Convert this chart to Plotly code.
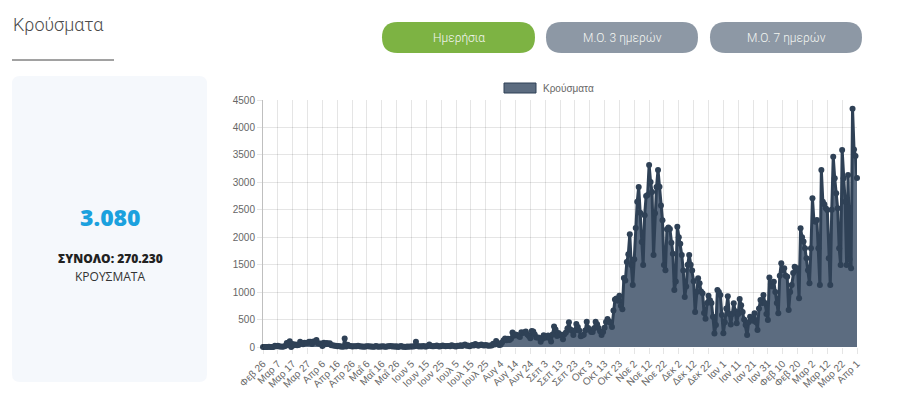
import pandas as pd
import plotly.graph_objects as go

# ---------------- data (daily cases) ----------------
cases_2020_feb = [1, 2, 1, 0]
cases_2020_mar = [3, 0, 0, 2, 22, 14, 21, 7, 11, 5, 10, 18, 73, 38, 103, 0, 56, 31, 46, 31,
                  35, 94, 71, 48, 78, 71, 74, 95, 95, 56, 102]
cases_2020_apr = [101, 129, 69, 60, 62, 20, 77, 52, 71, 56, 70, 33, 31, 25, 22, 15, 17, 11, 10, 6,
                  156, 10, 39, 22, 16, 11, 12, 14, 15, 24]
cases_2020_may = [15, 10, 9, 3, 10, 15, 13, 9, 11, 6, 4, 16, 10, 5, 10, 7, 12, 3, 6, 15,
                  12, 19, 7, 13, 4, 12, 1, 10, 20, 5, 6]
cases_2020_jun = [2, 8, 4, 10, 7, 11, 15, 97, 16, 9, 12, 10, 19, 7, 11, 20, 45, 18, 14, 12,
                  17, 26, 13, 10, 17, 28, 20, 12, 20, 18]
cases_2020_jul = [14, 30, 23, 13, 9, 24, 17, 32, 19, 34, 44, 22, 26, 13, 24, 36, 28, 55, 38, 21,
                  35, 44, 30, 28, 35, 28, 24, 27, 29, 57, 44]
cases_2020_aug = [110, 75, 37, 41, 80, 125, 153, 121, 151, 126, 150, 262, 203, 230, 217, 200, 181, 269, 256, 269,
                  284, 228, 201, 158, 293, 284, 228, 175, 171, 168, 97]
cases_2020_sep = [144, 212, 170, 186, 209, 160, 101, 227, 372, 320, 201, 253, 213, 223, 142, 234, 264, 339, 453, 318,
                  297, 217, 302, 418, 363, 300, 196, 210, 224, 301]
cases_2020_oct = [460, 346, 316, 273, 275, 342, 460, 414, 348, 287, 218, 274, 351, 457, 508, 468, 441, 363, 667, 865,
                  882, 841, 935, 753, 686, 1259, 1211, 1547, 1690, 2056, 1494]
cases_2020_nov = [1131, 1600, 2166, 2646, 2917, 2448, 1914, 1494, 2400, 2752, 2770, 3316, 3006, 2822, 1676, 2436, 2913, 3225, 2921, 2580,
                  2311, 1494, 1400, 2144, 2179, 2150, 1900, 1700, 1038, 1193]
cases_2020_dec = [2192, 2000, 1882, 1675, 1395, 911, 1100, 1500, 1676, 1500, 1395, 1200, 638, 1000, 1251, 1160, 1013, 980, 620, 515,
                  800, 935, 850, 800, 550, 248, 400, 1038, 1000, 947, 583]
cases_2021_jan = [249, 450, 700, 925, 600, 410, 600, 797, 650, 434, 600, 875, 760, 638, 500, 400, 219, 450, 552, 520,
                  480, 613, 450, 310, 700, 856, 800, 947, 800, 600, 492]
cases_2021_feb = [1264, 1150, 1100, 1191, 1000, 800, 613, 1300, 1524, 1400, 1433, 1300, 1282, 674, 1000, 1130, 1350, 1464, 1400, 1433,
                  887, 2162, 2000, 1920, 1797, 1615, 1400, 1160]
cases_2021_mar = [1800, 2709, 2300, 2284, 2315, 1800, 1130, 3225, 2648, 2600, 2527, 2497, 1615, 1130, 2500, 3468, 3073, 2800, 2527, 1800,
                  1494, 3590, 3073, 2648, 1494, 3134, 1600, 1433, 4340, 3600, 3480]
cases_2021_apr = [3080]

tick_labels = ["Φεβ 26", "Μαρ 7", "Μαρ 17", "Μαρ 27", "Απρ 6", "Απρ 16", "Απρ 26", "Μαΐ 6", "Μαΐ 16", "Μαΐ 26",
               "Ιουν 5", "Ιουν 15", "Ιουν 25", "Ιουλ 5", "Ιουλ 15", "Ιουλ 25", "Αυγ 4", "Αυγ 14", "Αυγ 24", "Σεπ 3",
               "Σεπ 13", "Σεπ 23", "Οκτ 3", "Οκτ 13", "Οκτ 23", "Νοε 2", "Νοε 12", "Νοε 22", "Δεκ 2", "Δεκ 12",
               "Δεκ 22", "Ιαν 1", "Ιαν 11", "Ιαν 21", "Ιαν 31", "Φεβ 10", "Φεβ 20", "Μαρ 2", "Μαρ 12", "Μαρ 22", "Απρ 1"]

y_ticks = [0, 500, 1000, 1500, 2000, 2500, 3000, 3500, 4000, 4500]

series_name = "Κρούσματα"
last_value_text = "3.080"
total_text = "ΣΥΝΟΛΟ: 270.230"
buttons = ["Ημερήσια", "Μ.Ο. 3 ημερών", "Μ.Ο. 7 ημερών"]

cases = (cases_2020_feb + cases_2020_mar + cases_2020_apr + cases_2020_may + cases_2020_jun +
         cases_2020_jul + cases_2020_aug + cases_2020_sep + cases_2020_oct + cases_2020_nov +
         cases_2020_dec + cases_2021_jan + cases_2021_feb + cases_2021_mar + cases_2021_apr)
dates = pd.date_range("2020-02-26", "2021-04-01", freq="D")
assert len(dates) == len(cases), (len(dates), len(cases))
tick_dates = list(dates[::10])

# ---------------- layout geometry (pixels) ----------------
W, H = 900, 411
L, R, T, B = 263, 43, 100, 64
PW, PH = W - L - R, H - T - B


def px(x):
    return (x - L) / PW


def py(y):
    return (H - B - y) / PH


def rrect(x0, y0, x1, y1, r):
    rx, ry = r / PW, r / PH
    X0, X1 = px(x0), px(x1)
    Y0, Y1 = py(y0), py(y1)  # Y0 top (bigger), Y1 bottom
    return (f"M {X0+rx},{Y0} L {X1-rx},{Y0} Q {X1},{Y0} {X1},{Y0-ry} "
            f"L {X1},{Y1+ry} Q {X1},{Y1} {X1-rx},{Y1} "
            f"L {X0+rx},{Y1} Q {X0},{Y1} {X0},{Y1+ry} "
            f"L {X0},{Y0-ry} Q {X0},{Y0} {X0+rx},{Y0} Z")


LINE_COL = "#2f4156"
FILL_COL = "#5c6c80"
GRID = "rgba(0,0,0,0.1)"
CHART_FONT = "Liberation Sans, Arial, sans-serif"

fig = go.Figure()
fig.add_trace(go.Scatter(
    x=dates, y=cases, mode="lines+markers", name=series_name,
    fill="tozeroy", fillcolor=FILL_COL,
    line=dict(color=LINE_COL, width=3),
    marker=dict(color=LINE_COL, size=6),
    cliponaxis=False, showlegend=False, hoverinfo="x+y",
))

shapes = [
    # left panel
    dict(type="path", xref="paper", yref="paper", path=rrect(12, 76, 207, 382, 8),
         fillcolor="#f5f8fc", line=dict(width=0), layer="below"),
    # title underline
    dict(type="line", xref="paper", yref="paper", x0=px(12), x1=px(114), y0=py(60), y1=py(60),
         line=dict(color="#444444", width=1)),
    # legend box
    dict(type="rect", xref="paper", yref="paper", x0=px(504), x1=px(536), y0=py(93), y1=py(83),
         fillcolor=FILL_COL, line=dict(color=LINE_COL, width=1)),
]

btn_boxes = [(382, 535, "#7db343"), (546, 698, "#8d98a5"), (710, 862, "#8d98a5")]
for (x0, x1, col) in btn_boxes:
    shapes.append(dict(type="path", xref="paper", yref="paper", path=rrect(x0, 22, x1, 53, 15.5),
                       fillcolor=col, line=dict(width=0)))

annotations = [
    dict(text="Κρούσματα", x=px(11), y=py(25), xanchor="left", yanchor="middle",
         font=dict(family="Roboto", size=18, color="#4a4a4a", weight=300)),
    dict(text=last_value_text, x=px(110), y=py(217), xanchor="center", yanchor="middle",
         font=dict(family="Open Sans", size=23, color="#1ba1de", weight=800)),
    dict(text=total_text, x=px(110), y=py(258), xanchor="center", yanchor="middle",
         font=dict(family="Open Sans", size=12, color="#222222", weight=800)),
    dict(text="ΚΡΟΥΣΜΑΤΑ", x=px(110), y=py(276), xanchor="center", yanchor="middle",
         font=dict(family="Open Sans", size=12, color="#333333")),
    dict(text=series_name, x=px(541), y=py(88), xanchor="left", yanchor="middle",
         font=dict(family=CHART_FONT, size=10, color="#666666")),
]
for (x0, x1, col), label in zip(btn_boxes, buttons):
    annotations.append(dict(text=label, x=px((x0 + x1) / 2), y=py(38), xanchor="center", yanchor="middle",
                            font=dict(family="Roboto", size=12, color="#f4f6f2", weight=300)))
for a in annotations:
    a.update(xref="paper", yref="paper", showarrow=False)

fig.update_layout(
    width=W, height=H,
    margin=dict(l=L, r=R, t=T, b=B, autoexpand=False),
    paper_bgcolor="white", plot_bgcolor="white",
    shapes=shapes, annotations=annotations, showlegend=False,
    xaxis=dict(
        type="date", range=[dates[0], dates[-1]],
        tickmode="array", tickvals=tick_dates, ticktext=tick_labels, tickangle=-45,
        showgrid=True, gridcolor=GRID, gridwidth=1,
        ticks="outside", ticklen=6, tickcolor=GRID,
        tickfont=dict(family=CHART_FONT, size=10, color="#666666"),
        zeroline=False, showline=False, fixedrange=True,
    ),
    yaxis=dict(
        range=[0, 4500], tickmode="array", tickvals=y_ticks,
        showgrid=True, gridcolor=GRID, gridwidth=1,
        ticks="outside", ticklen=5, tickcolor=GRID,
        tickfont=dict(family=CHART_FONT, size=10, color="#666666"),
        zeroline=False, showline=True, linecolor="rgba(0,0,0,0.25)", linewidth=1,
        fixedrange=True,
    ),
)

fig.write_html("out.html")
